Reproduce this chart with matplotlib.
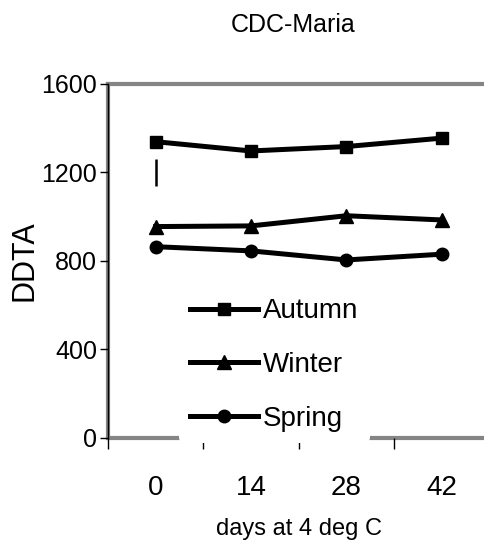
import matplotlib
matplotlib.use("Agg")
import matplotlib.pyplot as plt

plt.rcParams['font.family'] = ['Liberation Sans', 'DejaVu Sans']

days = ['0', '14', '28', '42']
autumn = [1339, 1297, 1317, 1355]
winter = [955, 958, 1004, 985]
spring = [864, 845, 804, 830]
# lone error bar at day 0
err_x = 0
err_lo, err_hi = 1139, 1260

fig = plt.figure(figsize=(4.85, 5.45), dpi=100)
ax = fig.add_axes([0.2227, 0.1969, 0.786, 0.649])

x = list(range(len(days)))
ax.plot(x, autumn, color='black', lw=3.6, marker='s', ms=9, label='Autumn', clip_on=False, zorder=3)
ax.plot(x, winter, color='black', lw=3.6, marker='^', ms=10, label='Winter', clip_on=False, zorder=3)
ax.plot(x, spring, color='black', lw=3.6, marker='o', ms=9, label='Spring', clip_on=False, zorder=3)
ax.vlines(err_x, err_lo, err_hi, color='black', lw=1.8)

# plot area border (grey)
grey = '#858585'
ax.axhline(1600, color=grey, lw=3, zorder=1, clip_on=False)
ax.axhline(0, color=grey, lw=3, zorder=1, clip_on=False)
ax.axvline(-0.5, color=grey, lw=3, zorder=1, clip_on=False)

ax.set_xlim(-0.5, 3.5)
ax.set_ylim(0, 1600)
ax.set_yticks([0, 400, 800, 1200, 1600])
ax.set_xticks(x)
ax.set_xticklabels(days)
ax.set_xticks([-0.5, 0.5, 1.5, 2.5, 3.5], minor=True)
ax.tick_params(axis='x', which='major', length=0, pad=27, labelsize=20)
ax.tick_params(axis='x', which='minor', length=8, width=1, direction='out')
ax.tick_params(axis='y', length=6, width=1, direction='out', pad=2, labelsize=18)

for s in ['top', 'right', 'bottom']:
    ax.spines[s].set_visible(False)
ax.spines['left'].set_color('black')
ax.spines['left'].set_linewidth(1)
ax.spines['left'].set_zorder(2)

ax.set_ylabel('DDTA', fontsize=22, labelpad=1)
ax.set_xlabel('days at 4 deg C', fontsize=17, labelpad=12)
fig.text(0.604, 0.955, 'CDC-Maria', ha='center', va='center', fontsize=18)

leg = ax.legend(loc='lower left', bbox_to_anchor=(179 / 485, (545 - 443) / 545),
                bbox_transform=fig.transFigure,
                frameon=True, facecolor='white', edgecolor='none', framealpha=1,
                fontsize=20, handlelength=2.45, handletextpad=0.18, labelspacing=1.0,
                borderpad=0.4, borderaxespad=0)
leg.set_zorder(5)

fig.savefig('out.png', dpi=100)
